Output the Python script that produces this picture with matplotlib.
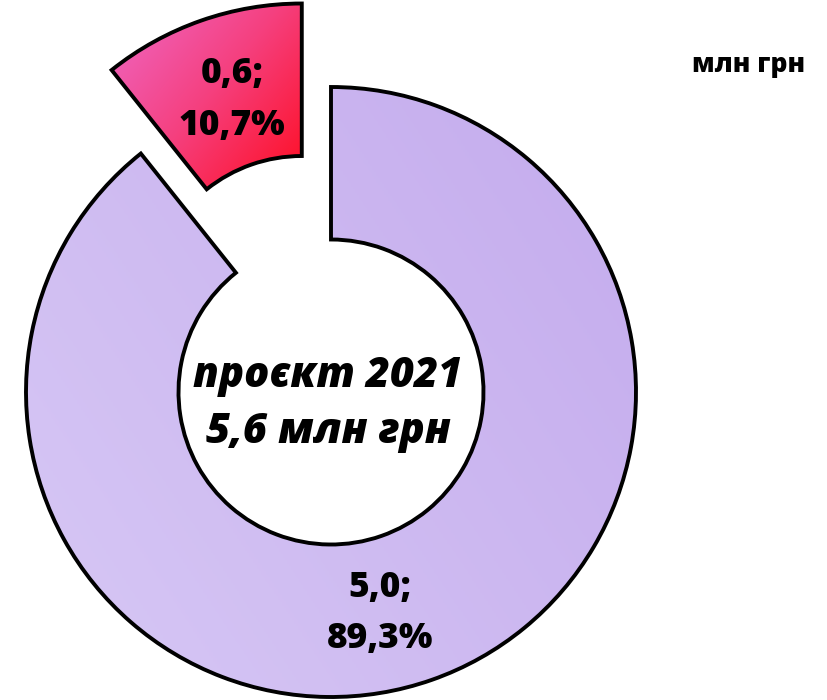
import numpy as np
import matplotlib
matplotlib.use("Agg")
import matplotlib.pyplot as plt
from matplotlib.colors import LinearSegmentedColormap
from matplotlib.patches import PathPatch

# ---- data ----
categories = ["Інше", "Виділено"]
values = [5.0, 0.6]
shares = [89.3, 10.7]
value_labels = [["5,0;", "89,3%"], ["0,6;", "10,7%"]]
center_title = ["проєкт 2021", "5,6 млн грн"]
unit_label = "млн грн"

W, H = 828, 700
R_PX = 305.0
CX, CY = 331.0, 392.0

fig = plt.figure(figsize=(W / 100, H / 100), dpi=100)
fig.patch.set_facecolor("white")
ax = fig.add_axes([0, 0, 1, 1])

wedges, _ = ax.pie(
    values,
    startangle=90,
    counterclock=False,
    radius=1.0,
    explode=[0, 0.29],
    wedgeprops=dict(width=0.5, edgecolor="none", linewidth=0),
)
wedges[0].set_facecolor("#C9B3EF")
wedges[1].set_facecolor("#F53060")

ax.set_xlim(-CX / R_PX, (W - CX) / R_PX)
ax.set_ylim(-(H - CY) / R_PX, CY / R_PX)
ax.set_aspect("equal")
ax.axis("off")

gx, gy = np.meshgrid(np.linspace(0, 1, 300), np.linspace(0, 1, 300))

# purple: subtle gradient
purple_cmap = LinearSegmentedColormap.from_list("p", ["#D7C8F5", "#C4ABED"])
g1 = np.clip((gx * 0.6 + gy * 0.4), 0, 1)
im1 = ax.imshow(g1, cmap=purple_cmap, extent=[-1, 1, -1, 1], origin="lower",
                zorder=2, aspect="auto")
im1.set_clip_path(wedges[0])

# red: pink upper-left -> red lower-right
red_cmap = LinearSegmentedColormap.from_list("r", ["#EE6CCB", "#F5407F", "#FF0A1C"])
g2 = np.clip((gx * 0.55 + (1 - gy) * 0.45), 0, 1)
im2 = ax.imshow(g2, cmap=red_cmap, extent=[-0.73, -0.08, 0.65, 1.3], origin="lower",
                zorder=2, aspect="auto")
im2.set_clip_path(wedges[1])

# outlines on top
for w in wedges:
    ax.add_patch(PathPatch(w.get_path(), transform=w.get_transform(), fill=False,
                           edgecolor="black", linewidth=2.8, joinstyle="miter", zorder=5))

def px(x, y):
    return ((x - CX) / R_PX, (CY - y) / R_PX)

font = ["Open Sans", "DejaVu Sans"]
# centre title (baselines)
for txt, yb in zip(center_title, [387, 443]):
    ax.text(*px(328, yb), txt, ha="center", va="baseline", fontsize=30,
            fontweight=800, fontstyle="italic", family=font, zorder=6)
# slice labels
for lines, xc, ybs in [(value_labels[0], 380, [597, 648]),
                       (value_labels[1], 232, [83, 135])]:
    for txt, yb in zip(lines, ybs):
        ax.text(*px(xc, yb), txt, ha="center", va="baseline", fontsize=25.5,
                fontweight=800, family=font, zorder=6)
ax.text(*px(749, 72), unit_label, ha="center", va="baseline", fontsize=19,
        fontweight=800, family=font, zorder=6)

fig.savefig("out.png", dpi=100, facecolor="white")
